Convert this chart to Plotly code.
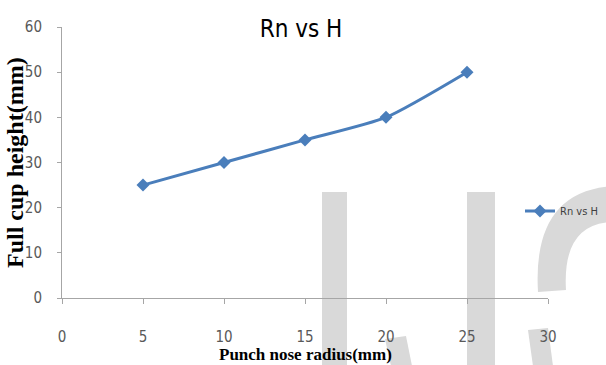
import plotly.graph_objects as go

radius = [5, 10, 15, 20, 25]
height = [25, 30, 35, 40, 50]
series_name = "Rn vs H"
x_title = "Punch nose radius(mm)"
y_title = "Full cup height(mm)"
x_ticks = [0, 5, 10, 15, 20, 25, 30]
y_ticks = [0, 10, 20, 30, 40, 50, 60]

W, H = 606, 365
L, R, T, B = 62, 58, 27, 67
PW, PH = W - L - R, H - T - B


def px(x, y):
    """pixel position in the page -> paper coordinates"""
    return (x - L) / PW, (H - B - y) / PH


def path(points):
    s = ""
    for i, p in enumerate(points):
        if p[0] == "Q":
            a = px(*p[1]); b = px(*p[2])
            s += " Q %.4f %.4f %.4f %.4f" % (a[0], a[1], b[0], b[1])
        else:
            a = px(*p)
            s += (" M" if i == 0 else " L") + " %.4f %.4f" % a
    return s + " Z"


fig = go.Figure()

# light gray watermark "IJS" behind the plot
wm = "#d9d9d9"
shapes_pts = [
    [(322, 192), (347, 192), (347, 366), (322, 366)],                     # I
    [(467, 192), (495, 192), (495, 366), (467, 366)],                     # J stem
    [(385, 339), (406, 336), (412, 366), (391, 366)],                     # J hook tip
    [(538, 292), ("Q", (532, 190), (615, 186)), (615, 222),
     ("Q", (562, 222), (566, 290))],                                      # S upper bowl
    [(528, 330), (548, 328), (553, 366), (533, 366)],                     # S lower piece
]
for pts in shapes_pts:
    fig.add_shape(type="path", xref="paper", yref="paper", path=path(pts),
                  fillcolor=wm, line_width=0, layer="below")

fig.add_trace(go.Scatter(
    x=radius, y=height, name=series_name, mode="lines+markers",
    line=dict(color="#4a7ebb", width=3, shape="spline", smoothing=0.6),
    marker=dict(symbol="diamond", size=10, color="#4a7ebb"),
))

tick_font = dict(size=15, color="#595959", family="DejaVu Sans Condensed, Liberation Sans Narrow, sans-serif")

fig.update_layout(
    width=W, height=H,
    margin=dict(l=L, r=R, t=T, b=B, autoexpand=False),
    paper_bgcolor="white", plot_bgcolor="rgba(0,0,0,0)",
    title=dict(text=series_name, x=301 / W, xanchor="center", y=1 - 29 / H, yanchor="middle",
               font=dict(family="DejaVu Sans Condensed, sans-serif", size=24, color="black")),
    showlegend=True,
    legend=dict(xref="container", yref="container", x=520 / W, xanchor="left",
                y=1 - 211 / H, yanchor="middle",
                font=dict(family="DejaVu Sans Condensed, sans-serif", size=11, color="#404040"),
                bgcolor="rgba(0,0,0,0)", itemwidth=30),
    annotations=[
        dict(text="<b>%s</b>" % x_title, xref="paper", yref="paper", x=px(305, 354)[0], y=px(305, 354)[1],
             showarrow=False, xanchor="center", yanchor="middle",
             font=dict(family="Liberation Serif, Times New Roman, serif", size=17, color="black")),
        dict(text="<b>%s</b>" % y_title, xref="paper", yref="paper", x=px(15, 163)[0], y=px(15, 163)[1],
             showarrow=False, xanchor="center", yanchor="middle", textangle=-90,
             font=dict(family="Liberation Serif, Times New Roman, serif", size=24, color="black")),
    ],
)

fig.update_xaxes(
    range=[0, 30], tickvals=x_ticks, showgrid=False, zeroline=False,
    showline=True, linecolor="#a6a6a6", linewidth=1,
    ticks="outside", ticklen=5, tickcolor="#a6a6a6",
    tickfont=tick_font, ticklabelstandoff=20,
)
fig.update_yaxes(
    range=[0, 60], tickvals=y_ticks, showgrid=False, zeroline=False,
    showline=True, linecolor="#a6a6a6", linewidth=1,
    ticks="outside", ticklen=4, tickcolor="#a6a6a6",
    tickfont=tick_font, ticklabelstandoff=12,
)

fig.write_html("out.html", config={"displayModeBar": False},
               post_script="document.body.style.margin='0';")
